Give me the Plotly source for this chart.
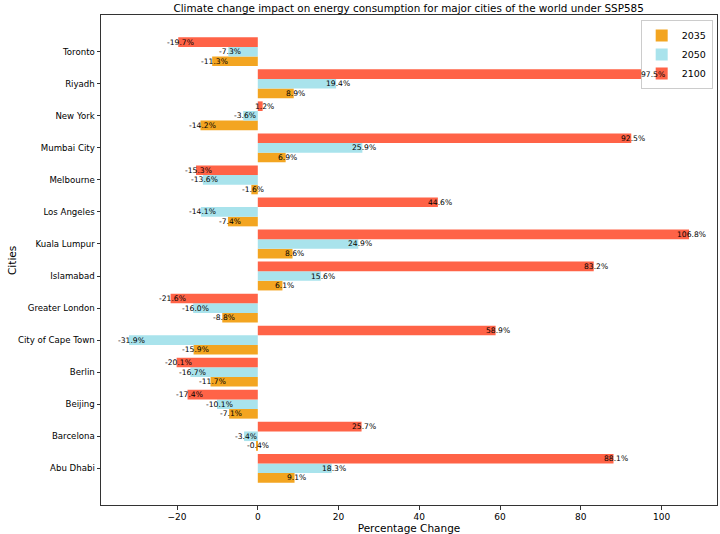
import plotly.graph_objects as go

cities = ["Abu Dhabi", "Barcelona", "Beijing", "Berlin", "City of Cape Town",
          "Greater London", "Islamabad", "Kuala Lumpur", "Los Angeles",
          "Melbourne", "Mumbai City", "New York", "Riyadh", "Toronto"]
v2035 = [9.1, -0.4, -7.1, -11.7, -15.9, -8.8, 6.1, 8.6, -7.4, -1.6, 6.9, -14.2, 8.9, -11.3]
v2050 = [18.3, -3.4, -10.1, -16.7, -31.9, -16.0, 15.6, 24.9, -14.1, -13.6, 25.9, -3.6, 19.4, -7.3]
v2100 = [88.1, 25.7, -17.4, -20.1, 58.9, -21.6, 83.2, 106.8, 44.6, -15.3, 92.5, 1.2, 97.5, -19.7]

series = [("2035", v2035, "#F3A521", -0.45),
          ("2050", v2050, "#A9E3EC", -0.15),
          ("2100", v2100, "#FF6347", 0.15)]
bw = 0.3
FONT = "DejaVu Sans"

fig = go.Figure()
idx = list(range(len(cities)))
annotations = []
for name, vals, col, off in series:
    fig.add_trace(go.Bar(
        name=name, x=vals, y=idx, orientation="h",
        width=bw, offset=off, marker=dict(color=col, line=dict(width=0)),
    ))
    for i, v in enumerate(vals):
        annotations.append(dict(
            x=v, y=i + off + bw / 2, xref="x", yref="y",
            text=f"{v:.1f}%", showarrow=False, xanchor="center", yanchor="middle",
            xshift=2, font=dict(family=FONT, size=7.6, color="black"),
        ))

# y-axis title
annotations.append(dict(
    text="Cities", xref="paper", yref="paper", x=-0.1445, y=0.5,
    xanchor="center", yanchor="middle", textangle=-90, showarrow=False,
    font=dict(family=FONT, size=10.5, color="black"),
))

lo = -0.45
hi = len(cities) - 1 + 0.45
m = 0.05 * (hi - lo)
allv = v2035 + v2050 + v2100 + [0]
xmin, xmax = min(allv), max(allv)
xm = 0.05 * (xmax - xmin)

fig.update_layout(
    width=720, height=534,
    margin=dict(l=101, r=3, t=15, b=29, autoexpand=False),
    plot_bgcolor="white", paper_bgcolor="white",
    barmode="overlay",
    font=dict(family=FONT, size=9, color="black"),
    title=dict(text="Climate change impact on energy consumption for major cities of the world under SSP585",
               x=0.5675, xanchor="center", y=0.985, yanchor="middle",
               font=dict(family=FONT, size=10.4, color="black")),
    legend=dict(x=0.993, y=0.99, xanchor="right", yanchor="top",
                bordercolor="#cccccc", borderwidth=1, bgcolor="white",
                font=dict(family=FONT, size=9.5), tracegroupgap=0, itemwidth=30),
    annotations=annotations,
    showlegend=True,
)
fig.update_xaxes(
    range=[xmin - xm, xmax + xm], showgrid=False, zeroline=False, automargin=False,
    showline=True, mirror=True, linecolor="#333333", linewidth=1,
    ticks="outside", ticklen=3.5, tickcolor="#333333",
    tickvals=[-20, 0, 20, 40, 60, 80, 100],
    ticktext=["\u221220", "0", "20", "40", "60", "80", "100"],
    tickfont=dict(family=FONT, size=9),
    title=dict(text="Percentage Change", font=dict(family=FONT, size=10.5), standoff=2),
)
fig.update_yaxes(
    range=[lo - m, hi + m], showgrid=False, zeroline=False, automargin=False,
    showline=True, mirror=True, linecolor="#333333", linewidth=1,
    ticks="outside", ticklen=3.5, tickcolor="#333333",
    tickvals=idx, ticktext=cities,
    tickfont=dict(family=FONT, size=8.6),
)

fig.write_html("out.html", config={"displayModeBar": False},
               post_script="document.body.style.margin='0';")
